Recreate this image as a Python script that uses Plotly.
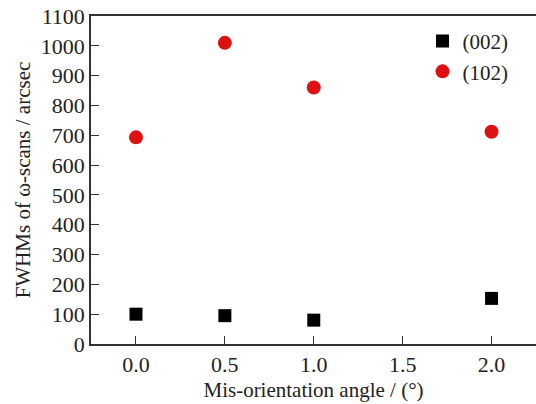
import plotly.graph_objects as go

angles = [0.0, 0.5, 1.0, 2.0]
fwhm_002 = [100, 95, 80, 153]
fwhm_102 = [693, 1010, 860, 712]
x_ticks = [0.0, 0.5, 1.0, 1.5, 2.0]
x_ticklabels = ["0.0", "0.5", "1.0", "1.5", "2.0"]
y_ticks = list(range(0, 1101, 100))

font = "Liberation Serif"

fig = go.Figure()
fig.add_trace(go.Scatter(x=angles, y=fwhm_002, mode="markers", name="(002)",
                         marker=dict(symbol="square", size=13, color="black")))
fig.add_trace(go.Scatter(x=angles, y=fwhm_102, mode="markers", name="(102)",
                         marker=dict(symbol="circle", size=14, color="#dd1111")))

fig.update_layout(
    width=536, height=404,
    margin=dict(l=91, r=0, t=16, b=60),
    paper_bgcolor="white", plot_bgcolor="white",
    font=dict(family=font, size=22, color="#222"),
    showlegend=True,
    legend=dict(x=0.745, y=0.985, xanchor="left", yanchor="top",
                bgcolor="rgba(0,0,0,0)", font=dict(family=font, size=21),
                itemwidth=30, tracegroupgap=0),
    xaxis=dict(range=[-0.253, 2.25], tickvals=x_ticks, ticktext=x_ticklabels,
               ticks="inside", ticklen=8, tickcolor="#333", showgrid=False, zeroline=False,
               showline=True, linecolor="#333", linewidth=1.5, mirror=True,
               title=dict(text="Mis-orientation angle / (°)", font=dict(family=font, size=21), standoff=6),
               tickfont=dict(family=font, size=22)),
    yaxis=dict(range=[0, 1100], tickvals=y_ticks,
               ticks="inside", ticklen=8, tickcolor="#333", showgrid=False, zeroline=False,
               showline=True, linecolor="#333", linewidth=1.5,
               title=dict(text="FWHMs of ω-scans / arcsec", font=dict(family=font, size=21), standoff=4),
               tickfont=dict(family=font, size=22)),
)
fig.write_html("out.html")
